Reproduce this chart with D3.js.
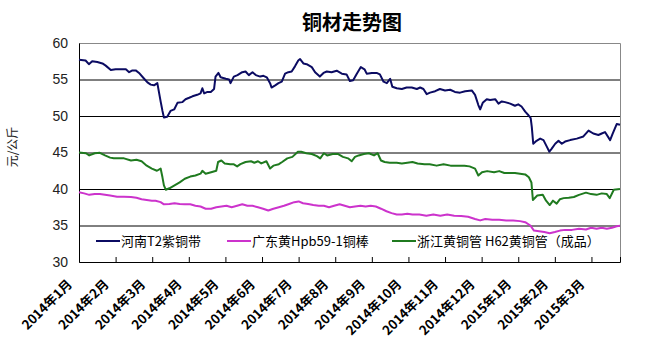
<!DOCTYPE html>
<html lang="zh">
<head>
<meta charset="UTF-8">
<title>铜材走势图</title>
<style>
  body { margin: 0; background: #fff; }
  text { font-family: "Noto Sans CJK SC", "DejaVu Sans", sans-serif; }
  .linea { fill: none; stroke-width: 2px; stroke-linejoin: round; }
</style>
<script src="https://cdn.jsdelivr.net/npm/d3@7/dist/d3.min.js"></script>
</head>
<body>
<script>
// titulos y etiquetas
var titulo = "铜材走势图";
var tituloY = "元/公斤";
var meses = ["2014年1月","2014年2月","2014年3月","2014年4月","2014年5月","2014年6月","2014年7月",
             "2014年8月","2014年9月","2014年10月","2014年11月","2014年12月","2015年1月","2015年2月","2015年3月"];
var ticksY = [30, 35, 40, 45, 50, 55, 60];
var nombres = ["河南T2紫铜带", "广东黄Hpb59-1铜棒", "浙江黄铜管  H62黄铜管（成品）"];
var colores = ["#0b0b62", "#cc33cc", "#1f7a1f"];

// datos: [mes desde 2014年1月, precio]
var henan = [[0,57.7],[0.18,57.6],[0.27,57.1],[0.36,57.5],[0.5,57.4],[0.64,57.2],[0.73,56.9],[0.87,56.3],
  [1,56.4],[1.28,56.4],[1.37,56],[1.46,56.25],[1.55,56.25],[1.64,55.9],[1.78,55.1],[1.87,54.6],[1.96,54.3],
  [2.05,54.2],[2.14,54.5],[2.23,52],[2.28,50.7],[2.32,49.8],[2.41,49.9],[2.5,50.7],[2.6,50.9],[2.69,51.8],
  [2.82,51.9],[2.91,52.3],[3.01,52.5],[3.1,52.7],[3.23,52.9],[3.32,53.1],[3.37,53.8],[3.42,53.1],[3.51,53.3],
  [3.6,53.3],[3.69,53.7],[3.73,55.4],[3.81,55.9],[3.87,55.3],[4.01,55.1],[4.1,55],[4.14,54.5],[4.23,55.4],
  [4.33,55.6],[4.46,56],[4.55,56.1],[4.64,55.6],[4.74,56],[4.83,55.6],[4.95,55.4],[5.04,55.5],[5.13,55.3],
  [5.22,54.5],[5.26,53.9],[5.36,54.2],[5.45,54.5],[5.54,54.7],[5.63,55.8],[5.72,56],[5.81,56.1],[5.9,56.8],
  [5.99,57.6],[6.04,57.8],[6.13,57.2],[6.22,57.1],[6.36,56.7],[6.45,56],[6.58,55.4],[6.68,55.9],[6.77,56.1],
  [6.9,56],[7.04,56.2],[7.18,55.8],[7.31,55.7],[7.4,54.8],[7.49,54.9],[7.59,55.8],[7.7,56.7],[7.8,56.4],
  [7.86,55.8],[8,55.9],[8.13,55.9],[8.22,55.7],[8.32,54.7],[8.41,54.5],[8.5,55.1],[8.56,54],[8.68,53.8],
  [8.82,53.7],[8.95,53.9],[9.09,53.9],[9.23,53.7],[9.32,53.9],[9.41,53.7],[9.5,53],[9.59,53.2],[9.73,53.4],
  [9.86,53.7],[10,53.5],[10.14,53.6],[10.27,53.3],[10.41,53.2],[10.55,53.4],[10.73,53.5],[10.82,52.9],
  [10.91,51.5],[10.96,50.9],[11.03,51.8],[11.14,52.3],[11.23,52.2],[11.37,52.3],[11.46,51.7],[11.55,52],
  [11.64,51.9],[11.78,51.7],[11.91,51.4],[12,51.6],[12.09,51.3],[12.19,50.6],[12.28,50.1],[12.34,49.7],
  [12.37,48.5],[12.41,46.2],[12.5,46.6],[12.6,46.9],[12.69,46.7],[12.78,45.8],[12.85,45.1],[12.91,45.5],
  [13.01,46.2],[13.1,46.6],[13.19,46.2],[13.28,46.5],[13.42,46.7],[13.6,46.9],[13.78,47.2],[13.92,48],
  [14.05,47.6],[14.19,47.4],[14.28,47.6],[14.37,47.8],[14.51,46.7],[14.58,47.6],[14.69,48.9],[14.78,48.8]];

var guangdong = [[0,39.55],[0.14,39.4],[0.28,39.2],[0.43,39.3],[0.57,39.3],[0.71,39.2],[0.85,39.1],[1.04,38.95],
  [1.23,38.95],[1.42,38.9],[1.57,38.8],[1.71,38.6],[1.85,38.5],[1.99,38.4],[2.09,38.4],[2.23,38.2],[2.32,37.9],
  [2.47,37.95],[2.61,38.05],[2.75,37.95],[2.89,37.9],[3.04,37.9],[3.18,37.7],[3.32,37.6],[3.46,37.3],[3.61,37.3],
  [3.75,37.5],[3.89,37.6],[4.03,37.7],[4.17,37.5],[4.32,37.7],[4.46,37.9],[4.6,37.7],[4.74,37.7],[4.89,37.5],
  [5.03,37.3],[5.17,37.05],[5.31,37.3],[5.46,37.5],[5.6,37.7],[5.74,37.95],[5.88,38.2],[6,38.3],[6.12,38.05],
  [6.26,37.95],[6.4,37.8],[6.55,37.7],[6.69,37.7],[6.83,37.5],[6.97,37.7],[7.12,37.9],[7.26,37.7],[7.4,37.5],
  [7.54,37.6],[7.69,37.7],[7.83,37.6],[7.97,37.7],[8.11,37.6],[8.25,37.3],[8.4,36.95],[8.54,36.7],[8.68,36.5],
  [8.82,36.5],[8.97,36.6],[9.11,36.5],[9.3,36.5],[9.49,36.35],[9.68,36.5],[9.87,36.35],[10.06,36.5],[10.25,36.35],
  [10.44,36.3],[10.63,36.2],[10.82,35.9],[10.96,35.7],[11.1,35.9],[11.29,35.8],[11.48,35.8],[11.67,35.7],
  [11.86,35.7],[12.05,35.6],[12.19,35.45],[12.33,35],[12.43,34.3],[12.57,34.2],[12.71,34.1],[12.86,33.95],
  [13,34.1],[13.14,34.3],[13.28,34.4],[13.47,34.4],[13.66,34.55],[13.85,34.45],[13.99,34.7],[14.14,34.55],
  [14.28,34.7],[14.42,34.55],[14.56,34.7],[14.69,34.9],[14.78,34.95]];

var zhejiang = [[0,45],[0.19,44.9],[0.28,44.6],[0.43,44.9],[0.57,44.95],[0.71,44.6],[0.85,44.3],[0.95,44.2],
  [1.23,44.2],[1.42,43.9],[1.57,44],[1.71,43.8],[1.85,43.2],[1.99,42.8],[2.13,42.5],[2.23,42.8],[2.28,41.6],
  [2.32,40.5],[2.37,39.9],[2.47,40.1],[2.61,40.5],[2.75,40.9],[2.89,41.4],[3.04,41.7],[3.18,41.85],[3.32,42.1],
  [3.37,42.5],[3.46,42.1],[3.61,42.3],[3.75,42.5],[3.8,43.7],[3.89,43.9],[3.98,43.5],[4.13,43.4],[4.22,43.4],
  [4.32,43.1],[4.41,43.4],[4.55,43.7],[4.7,43.8],[4.79,43.6],[4.89,43.8],[4.98,43.5],[5.12,43.8],[5.22,42.8],
  [5.31,43.2],[5.46,43.4],[5.55,43.7],[5.69,44.2],[5.83,44.4],[5.98,45.1],[6.07,45.1],[6.21,44.9],[6.36,44.8],
  [6.5,44.5],[6.59,44.2],[6.69,44.9],[6.78,44.6],[6.93,44.8],[7.07,44.8],[7.21,44.4],[7.35,44.2],[7.45,43.8],
  [7.54,44.4],[7.64,44.6],[7.78,44.8],[7.92,44.9],[8.06,44.6],[8.16,44.9],[8.25,43.9],[8.35,43.7],[8.49,43.6],
  [8.68,43.6],[8.82,43.5],[8.97,43.6],[9.11,43.7],[9.25,43.5],[9.44,43.4],[9.58,43.4],[9.77,43.2],[9.96,43.4],
  [10.15,43.2],[10.34,43.2],[10.53,43.2],[10.67,43.1],[10.82,42.8],[10.91,41.85],[11.01,42.3],[11.15,42.45],
  [11.34,42.3],[11.48,42.45],[11.62,42.2],[11.76,42.2],[11.91,42.2],[12.05,42.1],[12.19,42],[12.29,41.6],
  [12.36,40.9],[12.4,38.5],[12.52,39.1],[12.67,39.2],[12.76,38.4],[12.86,37.8],[12.95,38.4],[13.05,38],
  [13.14,38.6],[13.24,38.75],[13.38,38.8],[13.52,38.9],[13.66,39.2],[13.85,39.5],[13.99,39.3],[14.14,39.2],
  [14.28,39.4],[14.42,39.3],[14.5,38.75],[14.61,39.9],[14.78,40]];

var series = [henan, guangdong, zhejiang];

// tamaño y margenes
var ancho_svg = 666, alto_svg = 345,
    margen = {sup: 43, dch: 46, izq: 79, inf: 83},
    ancho = ancho_svg - margen.izq - margen.dch,
    alto = alto_svg - margen.sup - margen.inf;

var escala_x = d3.scaleLinear().domain([0, 14.78]).range([0, ancho]);
var escala_y = d3.scaleLinear().domain([30, 60]).range([alto, 0]);

var svg = d3.select("body").append("svg")
    .attr("width", ancho_svg).attr("height", alto_svg)
    .style("background", "#fff");

svg.append("text")
    .attr("x", 352).attr("y", 30)
    .attr("text-anchor", "middle")
    .style("font-size", "20px").style("font-weight", "bold")
    .text(titulo);

svg.append("text")
    .attr("transform", "translate(17,147) rotate(-90)")
    .attr("text-anchor", "middle")
    .style("font-size", "12px").attr("fill", "#222")
    .text(tituloY);

var g = svg.append("g").attr("transform", "translate(" + margen.izq + "," + margen.sup + ")");

// borde superior y derecho
g.append("path")
    .attr("d", "M0,0.5H" + (ancho + 0.5) + "V" + alto)
    .attr("fill", "none").attr("stroke", "#888");

// rejilla
g.append("g")
    .call(d3.axisLeft(escala_y).tickValues(ticksY.slice(1, -1)).tickSize(-ancho).tickFormat(""))
    .call(function(s) { s.select(".domain").remove(); s.selectAll("line").attr("stroke", "#000"); });

// eje y
g.append("g")
    .call(d3.axisLeft(escala_y).tickValues(ticksY).tickSize(0).tickPadding(11))
    .call(function(s) {
      s.select(".domain").attr("stroke", "#000");
      s.selectAll("text").style("font-size", "14px").style("font-family", "\"Liberation Sans\", sans-serif").attr("fill", "#222");
    });

// eje x
g.append("g")
    .attr("transform", "translate(0," + alto + ")")
    .call(d3.axisBottom(escala_x).tickValues(d3.range(meses.length)).tickSize(-5).tickFormat(""))
    .call(function(s) { s.select(".domain").attr("stroke", "#000"); s.selectAll("line").attr("stroke", "#000"); });

g.selectAll(".mes").data(meses).enter().append("text")
    .attr("class", "mes")
    .attr("text-anchor", "end")
    .attr("transform", function(d, i) { return "translate(" + (escala_x(i) - 6) + "," + (alto + 23) + ") rotate(-45)"; })
    .style("font-size", "13px").style("font-weight", "bold")
    .text(function(d) { return d; });

// lineas
var valorlinea = d3.line()
    .x(function(d) { return escala_x(d[0]); })
    .y(function(d) { return escala_y(d[1]); });

g.selectAll(".linea").data(series).enter().append("path")
    .attr("class", "linea")
    .attr("stroke", function(d, i) { return colores[i]; })
    .attr("d", valorlinea);

// leyenda
var posLeyenda = [17, 148, 313];
var ley = g.selectAll(".ley").data(nombres).enter().append("g")
    .attr("class", "ley")
    .attr("transform", function(d, i) { return "translate(" + posLeyenda[i] + "," + 198 + ")"; });
ley.append("line").attr("x1", 0).attr("x2", 24).attr("y1", 0).attr("y2", 0)
    .attr("stroke", function(d, i) { return colores[i]; }).attr("stroke-width", 2);
ley.append("text").attr("x", 25).attr("y", 5)
    .style("font-size", "13px")
    .text(function(d) { return d; });
</script>
</body>
</html>
